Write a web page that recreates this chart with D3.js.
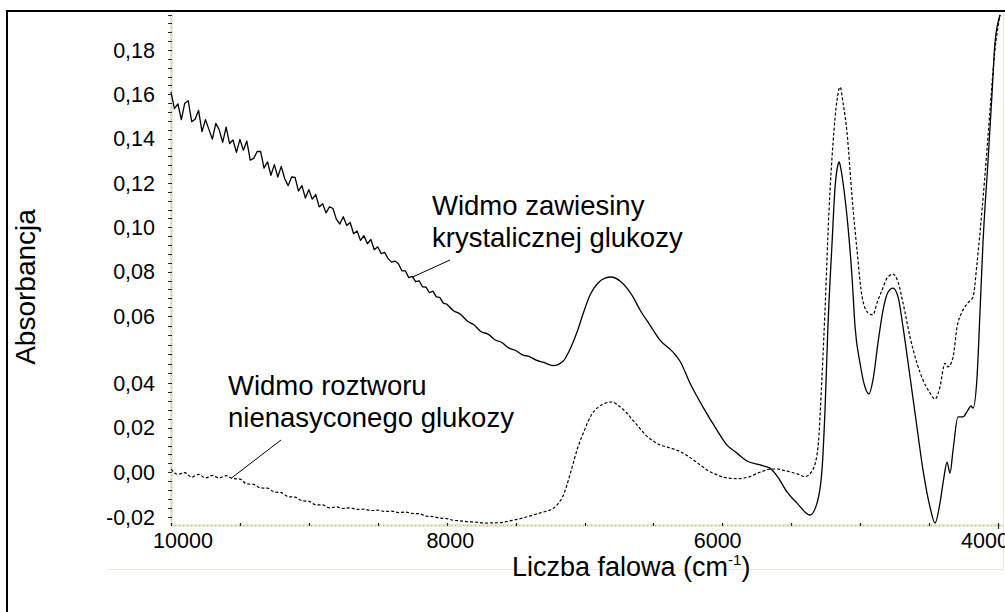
<!DOCTYPE html>
<html>
<head>
<meta charset="utf-8">
<script src="https://cdn.jsdelivr.net/npm/d3@7"></script>
<style>
  body { margin: 0; background: #fff; }
  svg { display: block; font-family: "Liberation Sans", Arial, sans-serif; }
</style>
</head>
<body>
<div id="chart"></div>
<script>
// wavenumber (cm-1), absorbance
const suspension = [
  [10000,0.1610],[9975,0.1536],[9950,0.1557],[9925,0.1486],[9900,0.1560],[9875,0.1571],[9850,0.1477],
  [9825,0.1488],[9800,0.1528],[9775,0.1432],[9750,0.1486],[9725,0.1442],[9700,0.1398],[9675,0.1469],
  [9650,0.1440],[9625,0.1383],[9600,0.1452],[9575,0.1378],[9550,0.1394],[9525,0.1338],[9500,0.1397],
  [9475,0.1348],[9450,0.1389],[9425,0.1303],[9400,0.1311],[9375,0.1342],[9350,0.1343],[9325,0.1267],
  [9300,0.1296],[9275,0.1235],[9250,0.1283],[9225,0.1227],[9200,0.1275],[9175,0.1219],[9150,0.1188],
  [9125,0.1227],[9100,0.1225],[9075,0.1164],[9050,0.1188],[9025,0.1132],[9000,0.1170],[8975,0.1127],
  [8950,0.1148],[8925,0.1092],[8900,0.1106],[8875,0.1065],[8850,0.1093],[8825,0.1085],[8800,0.1036],
  [8775,0.1015],[8750,0.1048],[8725,0.1008],[8700,0.1022],[8675,0.0971],[8650,0.0984],[8625,0.0941],
  [8600,0.0962],[8575,0.0926],[8550,0.0945],[8525,0.0899],[8500,0.0912],[8475,0.0881],[8450,0.0887],
  [8425,0.0859],[8400,0.0843],[8375,0.0848],[8350,0.0836],[8325,0.0804],[8300,0.0804],[8275,0.0773],
  [8250,0.0779],[8225,0.0755],[8200,0.0759],[8175,0.0732],[8150,0.0730],[8125,0.0705],[8100,0.0712],
  [8075,0.0686],[8050,0.0684],[8025,0.0658],[8000,0.0654],
  [7950,0.0624],[7900,0.0608],[7850,0.0585],[7800,0.0573],[7750,0.0553],
  [7700,0.0546],[7650,0.0529],[7600,0.0521],[7550,0.0505],[7500,0.0497],[7450,0.0484],[7400,0.0479],
  [7350,0.0468],[7300,0.0462],[7228,0.0452],[7156,0.0465],[7105,0.0501],[7054,0.0552],[7011,0.0609],
  [6960,0.0695],[6902,0.0749],[6851,0.0771],[6808,0.0776],[6742,0.0758],[6692,0.0726],[6648,0.0686],
  [6597,0.0627],[6525,0.0573],[6452,0.0528],[6358,0.0492],[6307,0.0465],[6235,0.0400],[6140,0.0292],
  [6039,0.0189],[5966,0.0122],[5894,0.0086],[5821,0.0051],[5727,0.0033],[5655,0.0019],[5597,-0.0021],
  [5531,-0.0088],[5458,-0.0138],[5364,-0.0191],[5313,-0.0138],[5277,0.0010],[5255,0.0279],[5234,0.0567],
  [5204,0.0929],[5182,0.1182],[5162,0.1280],[5153,0.1295],[5140,0.1265],[5124,0.1200],[5088,0.1001],
  [5059,0.0776],[5037,0.0567],
  [5001,0.0459],[4965,0.0382],[4936,0.0351],[4907,0.0409],[4871,0.0519],[4834,0.0627],[4798,0.0708],
  [4762,0.0726],[4725,0.0686],[4689,0.0567],[4638,0.0418],[4588,0.0203],[4544,0.0010],[4493,-0.0156],
  [4457,-0.0227],[4421,-0.0138],[4392,-0.0021],[4370,0.0046],[4348,-0.0003],[4326,0.0100],[4290,0.0248],
  [4254,0.0248],[4218,0.0279],[4196,0.0297],[4181,0.0288],[4152,0.0418],[4130,0.0627],[4109,0.0929],
  [4072,0.1304],[4043,0.1606],[4022,0.1831],[3985,0.1958]
];

const solution = [
  [10000,0.0014],[9950,-0.0009],[9900,-0.0001],[9850,-0.0022],[9800,-0.0009],[9750,-0.0025],[9700,-0.0014],
  [9650,-0.0025],[9600,-0.0015],[9550,-0.0028],[9500,-0.0030],[9450,-0.0052],[9400,-0.0054],[9350,-0.0070],
  [9300,-0.0071],[9250,-0.0088],[9200,-0.0091],[9150,-0.0109],[9100,-0.0111],[9050,-0.0127],[9000,-0.0130],
  [8950,-0.0145],[8900,-0.0146],[8850,-0.0159],[8800,-0.0155],[8750,-0.0162],[8700,-0.0159],[8650,-0.0166],
  [8600,-0.0165],[8550,-0.0171],[8500,-0.0169],[8450,-0.0175],[8400,-0.0174],[8350,-0.0180],[8300,-0.0178],
  [8250,-0.0184],[8200,-0.0185],[8150,-0.0196],[8100,-0.0198],[8050,-0.0205],[8000,-0.0207],[7950,-0.0215],
  [7900,-0.0217],[7850,-0.0221],[7800,-0.0222],[7750,-0.0226],[7700,-0.0227],[7650,-0.0226],[7600,-0.0225],
  [7550,-0.0218],[7500,-0.0212],[7450,-0.0205],[7400,-0.0196],[7350,-0.0187],[7300,-0.0178],[7250,-0.0169],
  [7200,-0.0147],[7150,-0.0097],[7100,0.0001],[7050,0.0109],[7000,0.0189],[6950,0.0257],[6900,0.0292],
  [6850,0.0310],[6800,0.0315],[6750,0.0297],[6700,0.0270],[6650,0.0234],[6600,0.0198],[6550,0.0163],
  [6500,0.0140],[6450,0.0122],[6400,0.0113],[6350,0.0104],[6300,0.0091],[6250,0.0073],[6200,0.0051],
  [6150,0.0028],[6100,0.0006],[6050,-0.0008],[6000,-0.0021],[5950,-0.0026],[5900,-0.0028],[5850,-0.0026],
  [5800,-0.0019],[5750,-0.0005],[5700,0.0006],[5650,0.0015],[5600,0.0015],[5550,0.0008],[5500,0.0001],
  [5450,-0.0008],[5400,-0.0019],[5345,0.0010],[5306,0.0113],[5277,0.0418],[5255,0.0627],[5226,0.1078],
  [5197,0.1380],[5168,0.1574],[5146,0.1633],[5124,0.1561],[5095,0.1425],[5059,0.1137],[5023,0.0898],
  [4986,0.0686],[4943,0.0614],[4907,0.0605],[4878,0.0659],[4841,0.0717],[4805,0.0771],[4762,0.0789],
  [4725,0.0753],[4689,0.0659],[4638,0.0537],[4588,0.0459],[4544,0.0409],[4493,0.0355],[4457,0.0328],
  [4421,0.0382],[4385,0.0459],[4363,0.0448],[4326,0.0477],[4297,0.0567],[4261,0.0618],[4218,0.0659],
  [4181,0.0686],[4152,0.0839],[4116,0.1078],[4080,0.1349],[4058,0.1529],[4022,0.1800],[3985,0.1958]
];

const yTickValues = [-0.02, 0, 0.02, 0.04, 0.06, 0.08, 0.10, 0.12, 0.14, 0.16, 0.18];
const xTickValues = [10000, 8000, 6000, 4000];
const xMinorTicks = d3.range(10000, 3999, -500);

const width = 1005, height = 612;

const svg = d3.select("#chart").append("svg")
    .attr("width", width)
    .attr("height", height);

// the picture glues two panels together, so the y axis has a step between 0,04 and 0,06
const x = d3.scaleLinear().domain([10000, 4000]).range([171, 998]);
const y = d3.scaleLinear().domain([-0.02, 0.04, 0.06, 0.18]).range([517, 383, 316, 50]);
const xLabelPos = d3.scaleLinear().domain([10000, 4000]).range([183, 985]);

const fmt = d3.formatLocale({decimal: ",", thousands: " ", grouping: [3], currency: ["", ""], minus: "-"}).format(".2f");

// outer frame and faint panel edges
svg.append("rect")
    .attr("x", 7).attr("y", 11)
    .attr("width", 1010).attr("height", 620)
    .attr("fill", "none")
    .attr("stroke", "#000")
    .attr("stroke-width", 2);

svg.append("path")
    .attr("d", "M107,569.5H1003.5V14")
    .attr("fill", "none")
    .attr("stroke", "#ece9dc")
    .attr("stroke-width", 1);

// y axis
const yMinor = d3.range(-0.02, 0.0399, 0.004)
    .concat(d3.range(0, 7).map(k => 0.04 + k * 0.02 / 7))
    .concat(d3.range(0.06, 0.197, 0.004));

svg.append("line")
    .attr("x1", 171.5).attr("x2", 171.5)
    .attr("y1", 15).attr("y2", 525)
    .attr("stroke", "#ebe7d2")
    .attr("stroke-width", 3);
svg.append("line")
    .attr("x1", 171.5).attr("x2", 171.5)
    .attr("y1", 15).attr("y2", 525)
    .attr("stroke", "#b9b39e")
    .attr("stroke-width", 1)
    .attr("stroke-dasharray", "1,3");

svg.append("g").selectAll("line")
    .data(yMinor)
    .join("line")
    .attr("x1", 168).attr("x2", 172)
    .attr("y1", d => Math.round(y(d)) + 0.5)
    .attr("y2", d => Math.round(y(d)) + 0.5)
    .attr("stroke", "#222")
    .attr("stroke-width", 1);

svg.append("g").selectAll("text")
    .data(yTickValues)
    .join("text")
    .attr("x", 155)
    .attr("y", d => y(d))
    .attr("dy", "0.36em")
    .attr("text-anchor", "end")
    .attr("font-size", 21.5)
    .attr("fill", "#000")
    .text(d => fmt(d));

// x axis
svg.append("line")
    .attr("x1", 171).attr("x2", 1003)
    .attr("y1", 525.5).attr("y2", 525.5)
    .attr("stroke", "#ebe7d2")
    .attr("stroke-width", 3);
svg.append("line")
    .attr("x1", 171).attr("x2", 1003)
    .attr("y1", 525.5).attr("y2", 525.5)
    .attr("stroke", "#b9b39e")
    .attr("stroke-width", 1)
    .attr("stroke-dasharray", "1,3");

svg.append("g").selectAll("line")
    .data(xMinorTicks)
    .join("line")
    .attr("x1", d => Math.round(x(d)) + 0.5)
    .attr("x2", d => Math.round(x(d)) + 0.5)
    .attr("y1", 523).attr("y2", d => d === 4000 ? 529 : 526)
    .attr("stroke", "#222")
    .attr("stroke-width", 1.2);

svg.append("g").selectAll("text")
    .data(xTickValues)
    .join("text")
    .attr("x", d => xLabelPos(d))
    .attr("y", 548)
    .attr("text-anchor", "middle")
    .attr("font-size", 21.5)
    .attr("fill", "#000")
    .text(d => d);

// axis titles
const xTitle = svg.append("text")
    .attr("x", 512).attr("y", 576)
    .attr("font-size", 27)
    .attr("fill", "#000");
xTitle.append("tspan").text("Liczba falowa (cm");
xTitle.append("tspan").attr("dy", -11).attr("font-size", 15).text("-1");
xTitle.append("tspan").attr("dy", 11).text(")");

svg.append("text")
    .attr("transform", "translate(35,287) rotate(-90)")
    .attr("text-anchor", "middle")
    .attr("font-size", 28)
    .attr("fill", "#000")
    .text("Absorbancja");

// spectra: the noisy far end is drawn straight point to point, the bands smoothly
const jagged = d3.line()
    .x(d => x(d[0]))
    .y(d => y(d[1]));

const smooth = d3.line()
    .x(d => x(d[0]))
    .y(d => y(d[1]))
    .curve(d3.curveMonotoneX);

svg.append("path")
    .datum(suspension.filter(d => d[0] >= 8000))
    .attr("d", jagged)
    .attr("fill", "none")
    .attr("stroke", "#000")
    .attr("stroke-width", 1.3)
    .attr("stroke-linejoin", "round");

svg.append("path")
    .datum(suspension.filter(d => d[0] <= 8000))
    .attr("d", smooth)
    .attr("fill", "none")
    .attr("stroke", "#000")
    .attr("stroke-width", 1.3);

svg.append("path")
    .datum(solution)
    .attr("d", smooth)
    .attr("fill", "none")
    .attr("stroke", "#000")
    .attr("stroke-width", 1.2)
    .attr("stroke-dasharray", "3,2");

// annotations
const notes = [
  {lines: ["Widmo zawiesiny", "krystalicznej glukozy"], tx: 432, ty: 215, from: [450, 260], at: [8250, 0.0775]},
  {lines: ["Widmo roztworu", "nienasyconego glukozy"], tx: 228, ty: 395, from: [281, 440], at: [9560, -0.0025]}
];

notes.forEach(n => {
  svg.append("line")
      .attr("x1", n.from[0]).attr("y1", n.from[1])
      .attr("x2", x(n.at[0])).attr("y2", y(n.at[1]))
      .attr("stroke", "#000")
      .attr("stroke-width", 1);
  const t = svg.append("text")
      .attr("x", n.tx).attr("y", n.ty)
      .attr("font-size", 27.5)
      .attr("fill", "#000");
  n.lines.forEach((s, i) => {
    t.append("tspan").attr("x", n.tx).attr("dy", i === 0 ? 0 : 31.5).text(s);
  });
});
</script>
</body>
</html>
